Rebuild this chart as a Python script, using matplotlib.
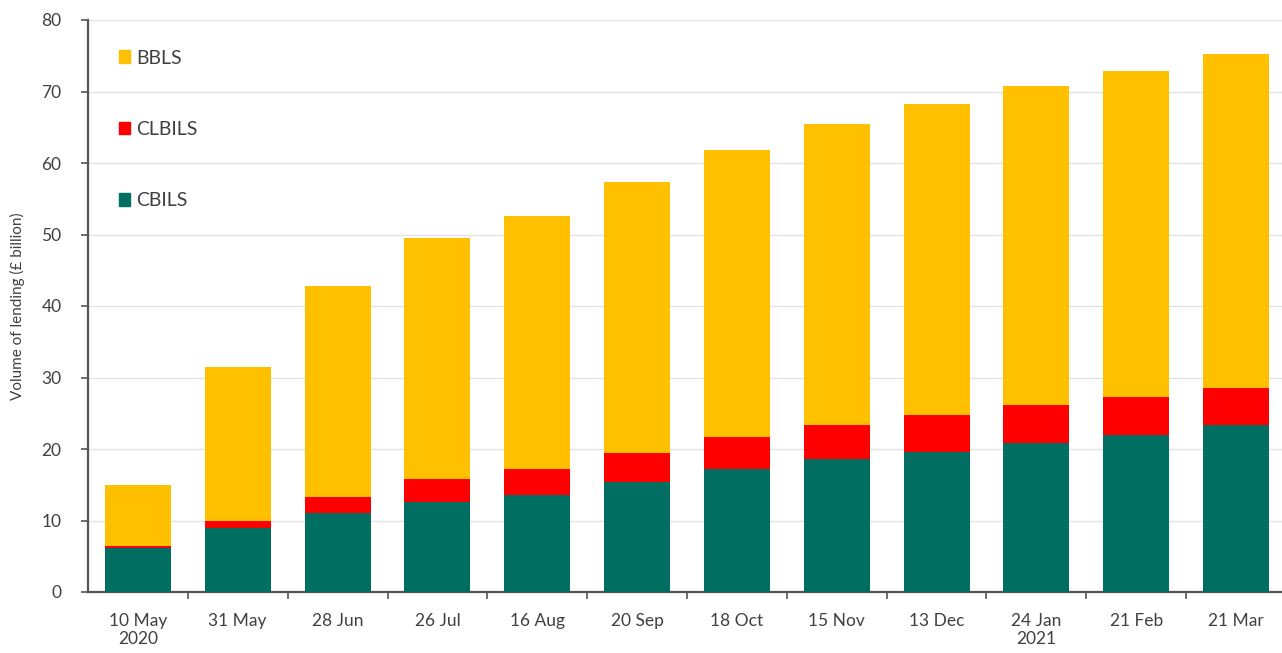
import numpy as np
import matplotlib
matplotlib.use("Agg")
import matplotlib.pyplot as plt
from matplotlib.patches import Patch

plt.rcParams['font.family'] = ['Lato', 'DejaVu Sans']

dates = ['10 May\n2020', '31 May', '28 Jun', '26 Jul', '16 Aug', '20 Sep',
         '18 Oct', '15 Nov', '13 Dec', '24 Jan\n2021', '21 Feb', '21 Mar']
cbils = [6.1, 8.9, 11.0, 12.6, 13.6, 15.4, 17.2, 18.6, 19.6, 20.8, 22.0, 23.3]
clbils = [0.4, 1.0, 2.3, 3.2, 3.6, 4.0, 4.5, 4.8, 5.2, 5.4, 5.3, 5.3]
totals = [15.0, 31.5, 42.8, 49.5, 52.6, 57.3, 61.8, 65.4, 68.2, 70.7, 72.9, 75.2]
bbls = [t - a - b for t, a, b in zip(totals, cbils, clbils)]

green = '#006F62'
red = '#FF0000'
yellow = '#FFC000'
text_col = '#404040'

fig = plt.figure(figsize=(12.82, 6.53), dpi=100)
ax = fig.add_axes([88 / 1282, 61 / 653, 1198 / 1282, 572 / 653])

x = np.arange(len(dates))
w = 0.66
ax.bar(x, cbils, w, color=green, zorder=3)
ax.bar(x, clbils, w, bottom=cbils, color=red, zorder=3)
ax.bar(x, bbls, w, bottom=np.array(cbils) + np.array(clbils), color=yellow, zorder=3)

ax.set_xlim(-0.5, len(dates) - 0.5)
ax.set_ylim(0, 80)
ax.set_yticks(range(0, 81, 10))
ax.yaxis.grid(True, color='#E3E3E3', linewidth=1.0, zorder=0)

ax.set_xticks(x)
ax.set_xticklabels(dates, fontsize=12.5, color=text_col, linespacing=1.15)
ax.set_xticks(x[:-1] + 0.5, minor=True)
ax.tick_params(axis='x', which='major', length=0, pad=15)
ax.tick_params(axis='x', which='minor', length=5, width=1.2, color='#555555', direction='out')
ax.tick_params(axis='y', labelsize=12.5, labelcolor=text_col, length=5, width=1.2,
               color='#555555', pad=14)

for s in ['top', 'right']:
    ax.spines[s].set_visible(False)
for s in ['left', 'bottom']:
    ax.spines[s].set_color('#555555')
    ax.spines[s].set_linewidth(1.6)

ax.set_ylabel('Volume of lending (£ billion)', fontsize=11, color=text_col, labelpad=12)

handles = [Patch(color=yellow, label='BBLS'),
           Patch(color=red, label='CLBILS'),
           Patch(color=green, label='CBILS')]
leg = ax.legend(handles=handles, loc='upper left', bbox_to_anchor=(0.011, 0.979),
                frameon=False, fontsize=14, handlelength=0.6, handleheight=0.6,
                handletextpad=0.3, labelspacing=2.8, labelcolor=text_col)

fig.savefig('out.png', dpi=100)
